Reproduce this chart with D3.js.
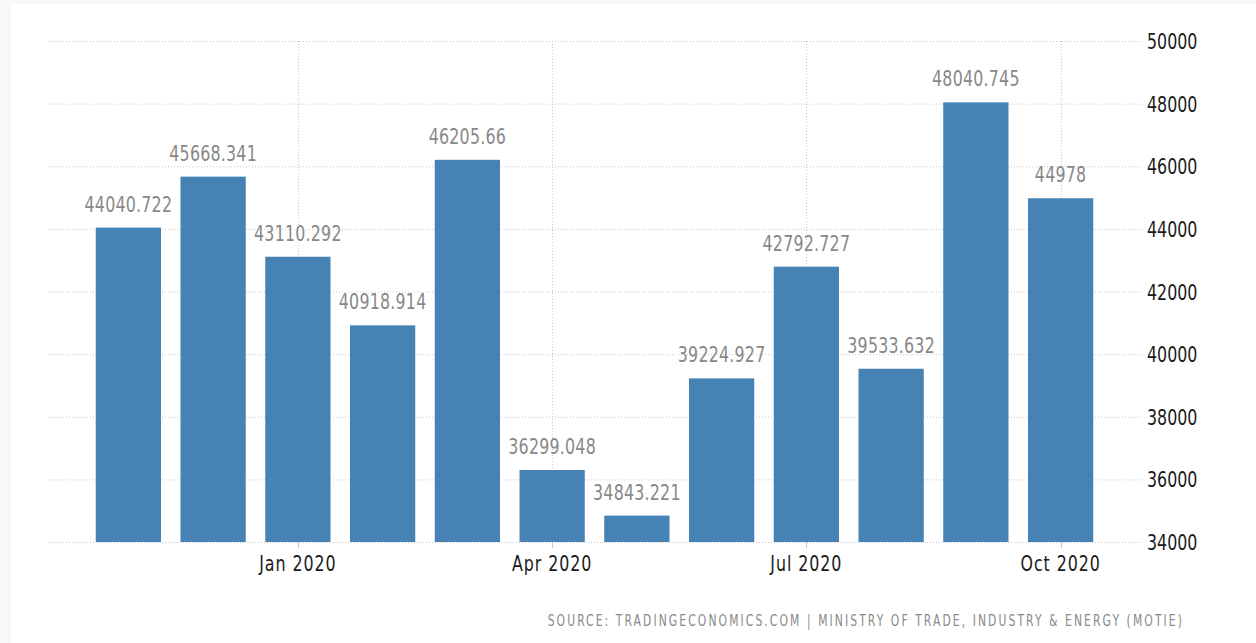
<!DOCTYPE html>
<html><head><meta charset="utf-8">
<script src="https://cdn.jsdelivr.net/npm/d3@7"></script>
<style>
html,body{margin:0;padding:0;background:#fff;}
svg{display:block;}
</style></head>
<body>
<svg id="chart" width="1256" height="643"></svg>
<script>
const months = ["Nov 2019","Dec 2019","Jan 2020","Feb 2020","Mar 2020","Apr 2020","May 2020","Jun 2020","Jul 2020","Aug 2020","Sep 2020","Oct 2020"];
const valueLabels = ["44040.722","45668.341","43110.292","40918.914","46205.66","36299.048","34843.221","39224.927","42792.727","39533.632","48040.745","44978"];
const values = [44040.722,45668.341,43110.292,40918.914,46205.66,36299.048,34843.221,39224.927,42792.727,39533.632,48040.745,44978];
const yTicks = [34000,36000,38000,40000,42000,44000,46000,48000,50000];
const xTickMonths = ["Jan 2020","Apr 2020","Jul 2020","Oct 2020"];
const sourceText = "SOURCE: TRADINGECONOMICS.COM | MINISTRY OF TRADE, INDUSTRY & ENERGY (MOTIE)";

const svg = d3.select("#chart");
const W = 1256, H = 643;
const FONT = "'DejaVu Sans Condensed','DejaVu Sans',sans-serif";
const SX = 0.8;

svg.append("rect").attr("x",0).attr("y",0).attr("width",W).attr("height",H).attr("fill","#f6f8fa");
svg.append("rect").attr("x",11).attr("y",4).attr("width",W-11).attr("height",H-4).attr("fill","#ffffff");

const plot = {left:48, right:1142, top:41, bottom:542};

const x = d3.scaleBand().domain(months).range([86,1103]).paddingInner(0.23).paddingOuter(0.115);
const y = d3.scaleLinear().domain([34000,50000]).range([plot.bottom, plot.top]);

// horizontal grid
svg.append("g").selectAll("line").data(yTicks).join("line")
  .attr("x1",plot.left).attr("x2",plot.right)
  .attr("y1",d=>y(d)+0.5).attr("y2",d=>y(d)+0.5)
  .attr("stroke","#c8c8c8").attr("stroke-width",1).attr("stroke-dasharray","1,2");

// vertical grid
svg.append("g").selectAll("line").data(xTickMonths).join("line")
  .attr("x1",d=>Math.round(x(d)+x.bandwidth()/2)+0.5).attr("x2",d=>Math.round(x(d)+x.bandwidth()/2)+0.5)
  .attr("y1",plot.top).attr("y2",plot.bottom)
  .attr("stroke","#c8c8c8").attr("stroke-width",1).attr("stroke-dasharray","1,2");

// bars
svg.append("g").selectAll("rect").data(values).join("rect")
  .attr("x",(d,i)=>x(months[i]))
  .attr("width",x.bandwidth())
  .attr("y",d=>y(d))
  .attr("height",d=>y(34000)-y(d))
  .attr("fill","#4682b4");

// x tick marks
svg.append("g").selectAll("line").data(xTickMonths).join("line")
  .attr("x1",d=>Math.round(x(d)+x.bandwidth()/2)+0.5).attr("x2",d=>Math.round(x(d)+x.bandwidth()/2)+0.5)
  .attr("y1",plot.bottom).attr("y2",plot.bottom+6)
  .attr("stroke","#c8c8c8").attr("stroke-width",1);

// value labels
svg.append("g").selectAll("text").data(values).join("text")
  .attr("transform",(d,i)=>`translate(${x(months[i])+x.bandwidth()/2},${y(d)-16}) scale(${SX},1)`)
  .attr("text-anchor","middle")
  .attr("font-family",FONT).attr("font-size",22)
  .attr("letter-spacing",0.3)
  .attr("fill","#888888")
  .text((d,i)=>valueLabels[i]);

// y axis labels
svg.append("g").selectAll("text").data(yTicks).join("text")
  .attr("transform",d=>`translate(1147,${y(d)+8}) scale(${SX},1)`)
  .attr("text-anchor","start")
  .attr("font-family",FONT).attr("font-size",22)
  .attr("fill","#1a1a1a")
  .text(d=>d);

// x axis labels
svg.append("g").selectAll("text").data(xTickMonths).join("text")
  .attr("transform",d=>`translate(${x(d)+x.bandwidth()/2},571) scale(${SX},1)`)
  .attr("text-anchor","middle")
  .attr("font-family",FONT).attr("font-size",22)
  .attr("letter-spacing",1.2)
  .attr("fill","#1a1a1a")
  .text(d=>d);

// source
svg.append("text")
  .attr("transform",`translate(1184,626) scale(${SX},1)`)
  .attr("text-anchor","end")
  .attr("font-family",FONT).attr("font-size",15)
  .attr("letter-spacing",2.6)
  .attr("fill","#8a8a8a")
  .text(sourceText);
</script>
</body></html>
